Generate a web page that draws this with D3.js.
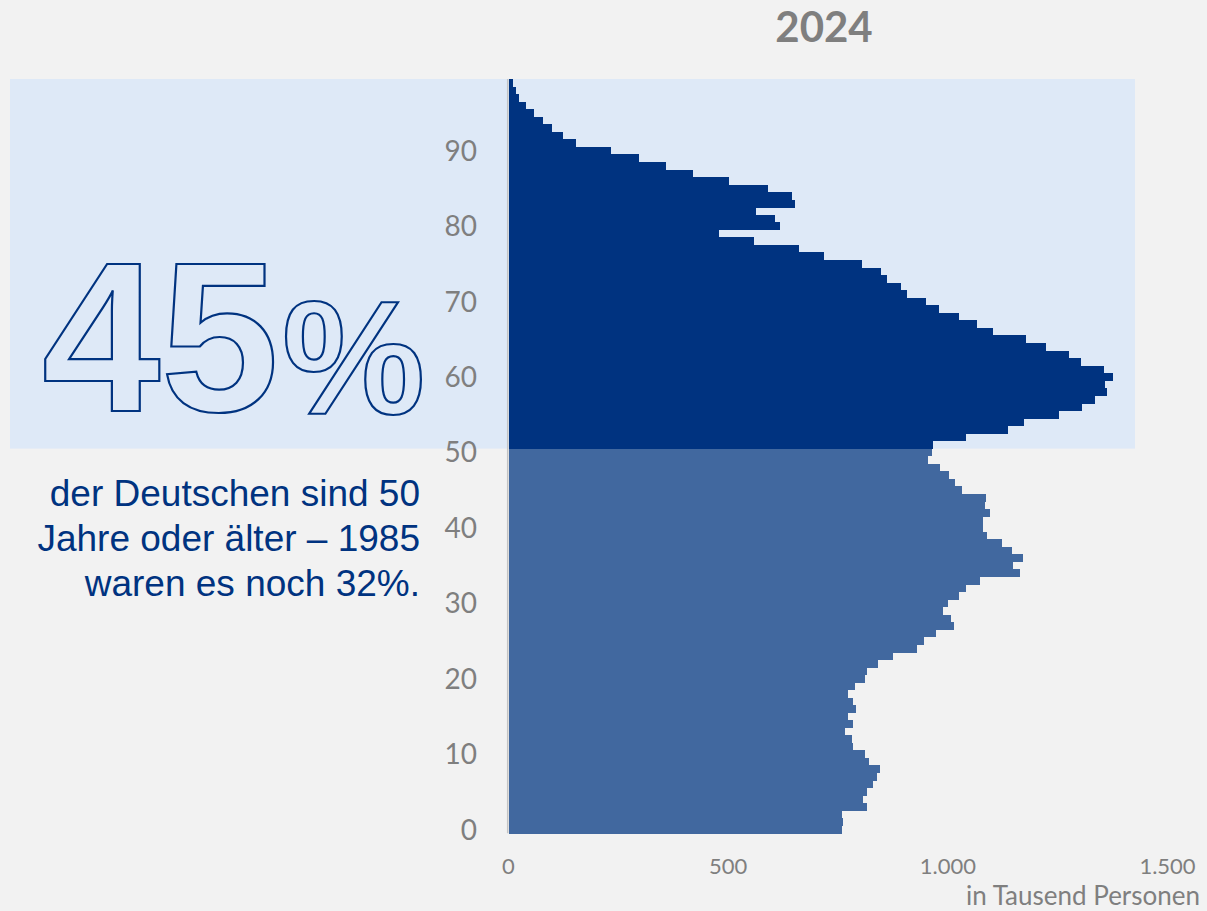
<!DOCTYPE html>
<html>
<head>
<meta charset="utf-8">
<script src="https://cdn.jsdelivr.net/npm/d3@7"></script>
<style>
  html, body { margin: 0; padding: 0; background: #f2f2f2; }
  svg { display: block; }
</style>
</head>
<body>
<svg id="chart" width="1207" height="911"></svg>
<script>
// ---- data ----
const title = "2024";
const ages = [0,1,2,3,4,5,6,7,8,9,10,11,12,13,14,15,16,17,18,19,20,21,22,23,24,25,26,27,28,29,
  30,31,32,33,34,35,36,37,38,39,40,41,42,43,44,45,46,47,48,49,50,51,52,53,54,55,56,57,58,59,
  60,61,62,63,64,65,66,67,68,69,70,71,72,73,74,75,76,77,78,79,80,81,82,83,84,85,86,87,88,89,
  90,91,92,93,94,95,96,97,98,99];
// population in thousand persons, by age
const population = [
  759, 761, 759, 815, 806, 815, 830, 839, 846, 820,
  811, 784, 782, 766, 784, 773, 791, 784, 773, 789,
  811, 816, 841, 876, 930, 946, 974, 1015, 1008, 989,
  1001, 1026, 1042, 1074, 1165, 1149, 1172, 1146, 1123, 1089,
  1080, 1080, 1096, 1085, 1087, 1032, 1016, 1003, 982, 955,
  964, 967, 1041, 1137, 1173, 1253, 1306, 1334, 1362, 1358,
  1375, 1356, 1304, 1275, 1224, 1177, 1103, 1066, 1025, 981,
  950, 908, 894, 862, 848, 805, 719, 661, 559, 478,
  618, 607, 564, 651, 645, 590, 502, 421, 358, 298,
  234, 154, 123, 100, 79, 57, 40, 25, 17, 10
];
const highlightFromAge = 51;
const yTickLabels = [0, 10, 20, 30, 40, 50, 60, 70, 80, 90];
const xTickValues = [0, 500, 1000, 1500];
const xTickLabels = ["0", "500", "1.000", "1.500"];
const xAxisTitle = "in Tausend Personen";
const bigNumber = "45";
const bigPercent = "%";
const noteLines = ["der Deutschen sind 50", "Jahre oder älter – 1985", "waren es noch 32%."];

// ---- drawing ----
const svg = d3.select("#chart");
const colDark = "#003380", colLight = "#41689f", colBox = "#dee9f7", colGray = "#7f7f7f";
const labelFont = "Lato, 'Open Sans', sans-serif";

const x = d3.scaleLinear().domain([0, 1500]).range([508.5, 1167.5]);
const y = d3.scaleBand().domain(ages.slice().reverse()).range([79, 833.3]).paddingInner(0).paddingOuter(0);

svg.append("rect").attr("x", 0).attr("y", 0).attr("width", 1207).attr("height", 911).attr("fill", "#f2f2f2");

// highlight box
const boxTop = y(ages[ages.length - 1]);
const boxBottom = y(highlightFromAge) + y.bandwidth();
svg.append("rect")
  .attr("x", 10).attr("y", boxTop)
  .attr("width", 1125).attr("height", boxBottom - boxTop)
  .attr("fill", colBox);

// bars
svg.append("g").selectAll("rect")
  .data(ages.map((a, i) => ({ age: a, v: population[i] })))
  .join("rect")
  .attr("x", x(0))
  .attr("y", d => y(d.age))
  .attr("width", d => x(d.v) - x(0))
  .attr("height", y.bandwidth() + 0.3)
  .attr("fill", d => d.age >= highlightFromAge ? colDark : colLight)
  .attr("shape-rendering", "crispEdges");

// axis line
svg.append("line")
  .attr("x1", x(0) - 0.8).attr("x2", x(0) - 0.8)
  .attr("y1", 79).attr("y2", 833.3)
  .attr("stroke", "#c4c4c4").attr("stroke-width", 1.5);

// y labels
svg.append("g").selectAll("text")
  .data(yTickLabels)
  .join("text")
  .attr("x", 477)
  .attr("y", d => y(d) + y.bandwidth() / 2)
  .attr("dy", "0.36em")
  .attr("text-anchor", "end")
  .attr("font-family", labelFont)
  .attr("font-size", 28)
  .attr("fill", colGray)
  .text(d => d);

// x labels
svg.append("g").selectAll("text")
  .data(xTickValues)
  .join("text")
  .attr("x", d => x(d))
  .attr("y", 874)
  .attr("text-anchor", "middle")
  .attr("font-family", labelFont)
  .attr("font-size", 22)
  .attr("fill", colGray)
  .text((d, i) => xTickLabels[i]);

svg.append("text")
  .attr("x", 1200).attr("y", 905)
  .attr("text-anchor", "end")
  .attr("font-family", labelFont)
  .attr("font-size", 26)
  .attr("fill", colGray)
  .text(xAxisTitle);

// title
svg.append("text")
  .attr("x", 824).attr("y", 42)
  .attr("text-anchor", "middle")
  .attr("font-family", labelFont)
  .attr("font-weight", "bold")
  .attr("font-size", 42)
  .attr("fill", colGray)
  .text(title);

// big outlined number
svg.append("text")
  .attr("x", 42).attr("y", 411)
  .attr("font-family", "'Liberation Sans', Arial, sans-serif")
  .attr("font-weight", "bold")
  .attr("font-size", 213)
  .attr("fill", "none")
  .attr("stroke", colDark)
  .attr("stroke-width", 2.2)
  .text(bigNumber);
svg.append("text")
  .attr("x", 282).attr("y", 414)
  .attr("font-family", "'Liberation Sans', Arial, sans-serif")
  .attr("font-weight", "bold")
  .attr("font-size", 161)
  .attr("fill", "none")
  .attr("stroke", colDark)
  .attr("stroke-width", 2.2)
  .text(bigPercent);

// note text
svg.append("g").selectAll("text")
  .data(noteLines)
  .join("text")
  .attr("x", 420)
  .attr("y", (d, i) => 506 + i * 45)
  .attr("text-anchor", "end")
  .attr("font-family", "'Liberation Sans', Arial, sans-serif")
  .attr("font-size", 37)
  .attr("fill", colDark)
  .text(d => d);
</script>
</body>
</html>
